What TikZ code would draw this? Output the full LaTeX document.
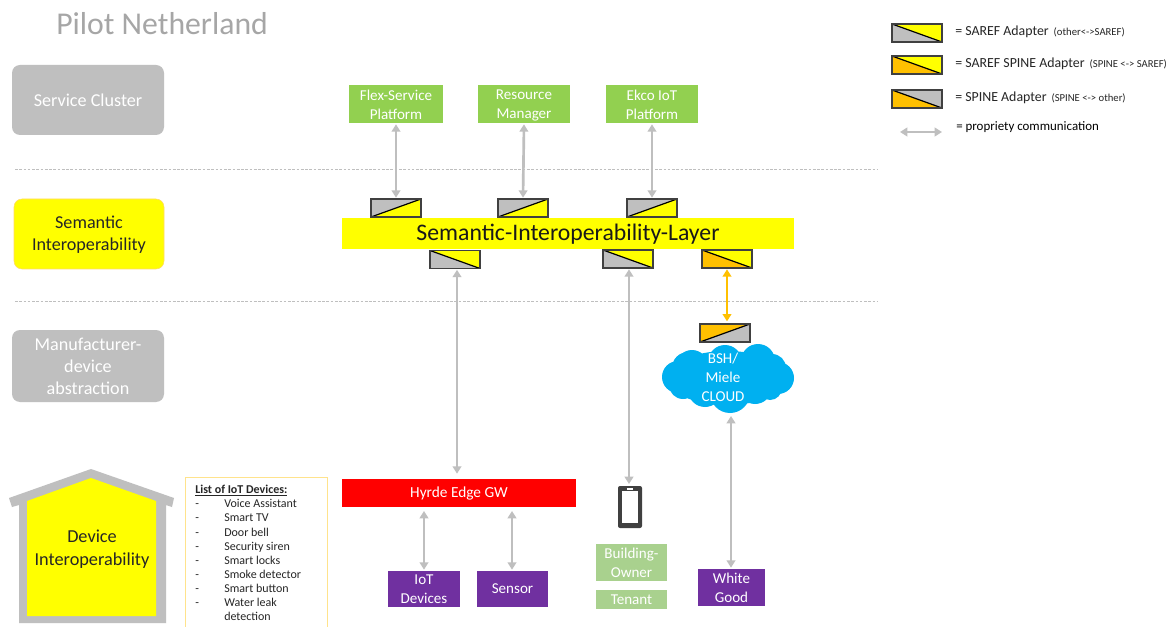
\documentclass[tikz,border=0pt]{standalone}
\usepackage{fontspec}
\setmainfont{Carlito}
\usetikzlibrary{arrows.meta}
\definecolor{gr}{HTML}{BFBFBF}
\definecolor{org}{HTML}{FFC000}
\definecolor{yel}{HTML}{FFFF00}
\definecolor{grn}{HTML}{92D050}
\definecolor{lgrn}{HTML}{A9D18E}
\definecolor{pur}{HTML}{7030A0}
\definecolor{sky}{HTML}{00B0F0}
\definecolor{ttl}{HTML}{A6A6A6}
\newcommand{\fs}[1]{\fontsize{#1pt}{#1pt}\selectfont}
\tikzset{
 px/.style={x=0.75pt,y=-0.75pt},
 boxn/.style={inner sep=0pt,outer sep=0pt,align=center,text=white},
 lbox/.style={boxn,fill=gr,rounded corners=6pt,font=\fontsize{13.6pt}{16.5pt}\selectfont},
 svc/.style={boxn,fill=grn,font=\fontsize{11.3pt}{14.2pt}\selectfont},
 dev/.style={boxn,fill=pur,font=\fontsize{11.3pt}{14.2pt}\selectfont},
 own/.style={boxn,fill=lgrn,font=\fontsize{11.3pt}{14.2pt}\selectfont},
 adapterbox/.style={draw=black!75,line width=0.9pt,inner sep=0pt,outer sep=0pt,minimum width=37.5pt,minimum height=13.5pt},
 adown/.style 2 args={adapterbox,path picture={
   \fill[#1] (path picture bounding box.north west)--(path picture bounding box.south west)--(path picture bounding box.south east)--cycle;
   \fill[#2] (path picture bounding box.north west)--(path picture bounding box.north east)--(path picture bounding box.south east)--cycle;
   \draw[black,line width=0.9pt] (path picture bounding box.north west)--(path picture bounding box.south east);}},
 aup/.style 2 args={adapterbox,path picture={
   \fill[#1] (path picture bounding box.north west)--(path picture bounding box.south west)--(path picture bounding box.north east)--cycle;
   \fill[#2] (path picture bounding box.south west)--(path picture bounding box.north east)--(path picture bounding box.south east)--cycle;
   \draw[black,line width=0.9pt] (path picture bounding box.south west)--(path picture bounding box.north east);}},
 link/.style={draw=gr,line width=2pt,{Triangle[length=5.5pt,width=6.5pt]}-{Triangle[length=5.5pt,width=6.5pt]}},
 olink/.style={link,draw=org,line width=1.5pt},
 sep/.style={draw=black!25,line width=0.5pt,dash pattern=on 2pt off 1.2pt},
 leg/.style={anchor=west,inner sep=0pt,text=black!85,font=\fontsize{10.4pt}{12pt}\selectfont},
 lst/.style={anchor=west,inner sep=0pt,text=black!85,text height=6.2pt,text depth=1.8pt,font=\fontsize{9pt}{10pt}\selectfont},
}
\newcommand{\bx}[7]{\node[#6,minimum width={(#4-#2)*0.75pt},minimum height={(#5-#3)*0.75pt}] (#1) at ({(#2+#4)/2},{(#3+#5)/2}) {#7};}
\newcommand{\leglabel}[1]{{\fontsize{8pt}{8pt}\selectfont\,#1}}
\begin{document}
\begin{tikzpicture}[px]
\useasboundingbox (0,0) rectangle (1167,627);
\fill[white] (0,0) rectangle (1167,627);
% title
\node[anchor=west,inner sep=0pt,text=ttl,font=\fs{23.8}] (title) at (56,24) {Pilot Netherland};
% separators
\coordinate (s1a) at (15,169); \coordinate (s1b) at (878,169);
\coordinate (s2a) at (15,301); \coordinate (s2b) at (878,301);
\draw[sep] (s1a) -- (s1b);
\draw[sep] (s2a) -- (s2b);
% left labels
\bx{svc0}{12}{65}{164}{135}{lbox}{\rule{0pt}{10pt}Service Cluster}
\bx{sem0}{14}{199}{164}{269}{lbox,fill=yel,draw=org!60,text=black!85}{\rule{0pt}{11pt}Semantic\\Interoperability}
\bx{man0}{12}{330}{164}{402}{lbox}{\rule{0pt}{10.5pt}Manufacturer-\\device\\abstraction}
% house
\fill[gr] (91,469) -- (174,498) -- (172,507) -- (166,505) -- (166,623) -- (19,623) -- (19,505) -- (12,507) -- (9,498) -- cycle;
\fill[yel] (91,478) -- (156,501) -- (156,616) -- (27,616) -- (27,501) -- cycle;
\node[inner sep=0pt,align=center,text=black!85,font=\fontsize{13.7pt}{17.3pt}\selectfont] (dev0) at (92,549.5) {Device\\Interoperability};
% list
\draw[draw=org!45,line width=0.7pt] (185,627) -- (185,477) -- (327,477) -- (327,627);
\node[lst,font=\bfseries\fontsize{9pt}{10pt}\selectfont] (lh) at (195,490.5) {\underline{List of IoT Devices:}};
\foreach \yy/\tt [count=\i] in {504.5/Voice Assistant,518.5/Smart TV,533.5/Door bell,547.5/Security siren,561.5/Smart locks,575.5/Smoke detector,589.5/Smart button,603.5/Water leak}{
  \node[lst] (d\i) at (195,\yy) {-};
  \node[lst] (t\i) at (224,\yy) {\tt};
}
\node[lst] (t9) at (224,617.5) {detection};
% service boxes
\bx{flex}{349}{85}{443}{123}{svc}{\rule{0pt}{9.5pt}Flex-Service\\Platform}
\bx{res}{478}{85}{570}{123}{svc}{\rule{0pt}{9.5pt}Resource\\Manager}
\bx{ekco}{606}{85}{698}{123}{svc}{\rule{0pt}{9.5pt}Ekco IoT\\Platform}
% layer
\bx{layer}{342}{218}{794}{249}{boxn,fill=yel,text=black!90,font=\fs{17.8}}{\rule{0pt}{13.5pt}Semantic-Interoperability-Layer}
% adapters
\node[aup={gr}{yel}] (a1) at (396,208) {};
\node[aup={gr}{yel}] (a2) at (523,208) {};
\node[aup={gr}{yel}] (a3) at (652,208) {};
\node[adown={gr}{yel}] (a4) at (455,259.5) {};
\node[adown={gr}{yel}] (a5) at (628,259) {};
\node[adown={org}{yel}] (a6) at (727,259) {};
\node[aup={org}{gr}] (a7) at (725,333) {};
% cloud
\fill[sky] (727,378) ellipse [x radius=60,y radius=27]
  (692,366) circle [radius=16]
  (725,362) circle [radius=17]
  (758,361) circle [radius=17]
  (772,368) circle [radius=14]
  (778,378) circle [radius=16]
  (770,388) circle [radius=12]
  (755,387) circle [radius=17]
  (730,393) circle [radius=20]
  (705,390) circle [radius=17]
  (683,385) circle [radius=14]
  (678,377) circle [radius=16]
  (688,368) circle [radius=16];
\node[inner sep=0pt,align=center,text=white,font=\fontsize{11.3pt}{14.2pt}\selectfont] (cltxt) at (723,377) {BSH/\\Miele\\CLOUD};
% gateway etc
\bx{gw}{342}{479}{576}{507}{boxn,fill=red,font=\fs{11.5}}{Hyrde Edge GW}
\bx{iot}{388}{571}{460}{607}{dev}{IoT\\Devices}
\bx{sen}{477}{571}{548}{607}{dev}{Sensor}
\bx{wg}{698}{569}{765}{606}{dev}{White\\Good}
\bx{bo}{596}{544}{667}{581}{own}{Building-\\Owner}
\bx{ten}{596}{590}{667}{609}{own}{Tenant}
% phone
\node[boxn,fill=black!75,rounded corners=1.5pt,minimum width=18pt,minimum height=31.5pt] (ph) at (630,507) {};
\fill[white] (622,491) rectangle (638,523);
\fill[white] (627,487.5) rectangle (633,489.5);
% connectors
\draw[link] ([yshift=-1pt]flex.south) -- ([yshift=1pt]a1.north);
\draw[link] ([yshift=-1pt]res.south) -- ([yshift=1pt]a2.north);
\draw[link] ([yshift=-1pt]ekco.south) -- ([yshift=1pt]a3.north);
\draw[link] ([xshift=1.5pt,yshift=-1pt]a4.south) -- ([xshift=1.5pt,yshift=4pt]a4.south |- gw.north);
\draw[link] ([xshift=0.75pt,yshift=-1pt]a5.south) -- ([xshift=0.75pt,yshift=1.5pt]a5.south |- ph.north);
\draw[olink] ([yshift=-1pt]a6.south) -- ([yshift=2pt]a6.south |- a7.north);
\coordinate (wgt) at (731,416);
\draw[link] (wgt) -- ([yshift=1pt]wgt |- wg.north);
\coordinate (ia) at (424,511); \coordinate (sa) at (512,511);
\draw[link] (ia) -- ([yshift=1pt]ia |- iot.north);
\draw[link] (sa) -- ([yshift=1pt]sa |- sen.north);
% legend
\node[adown={gr}{yel}] (l1) at (917,33) {};
\node[adown={org}{yel}] (l2) at (917,65) {};
\node[adown={org}{gr}] (l3) at (917,99) {};
\node[leg] (lt1) at (955,31.5) {= SAREF Adapter \leglabel{(other<->SAREF)}};
\node[leg] (lt2) at (955,63.5) {= SAREF SPINE Adapter \leglabel{(SPINE <-> SAREF)}};
\node[leg] (lt3) at (955,97.5) {= SPINE Adapter \leglabel{(SPINE <-> other)}};
\coordinate (la) at (900,132); \coordinate (lb) at (942,132);
\draw[link] (la) -- (lb);
\node[leg,font=\fontsize{9.7pt}{12pt}\selectfont,text=black] (lt4) at (956,127) {= propriety communication};
\end{tikzpicture}
\end{document}
